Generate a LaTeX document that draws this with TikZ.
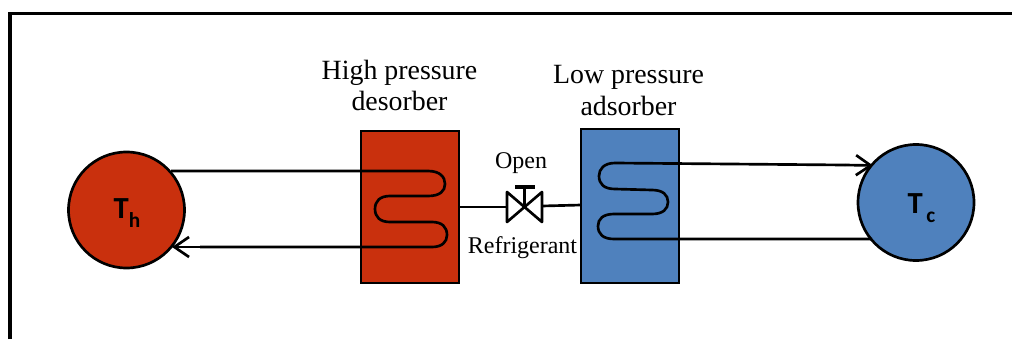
\documentclass[tikz,border=0pt]{standalone}
\usepackage{fontspec}
\setmainfont{Liberation Serif}
\newfontfamily\labelfont{Carlito}
\usetikzlibrary{arrows.meta}
\definecolor{hotred}{HTML}{C9300D}
\definecolor{coldblue}{HTML}{4F81BD}
\tikzset{
  outline/.style={line width=2pt,draw=black},
  tankbox/.style={outline,inner sep=0pt,outer sep=0pt,minimum width=73.5pt,anchor=north west},
  reservoir/.style={outline,circle,inner sep=0pt,outer sep=0pt,minimum size=87pt},
  tube/.style={line width=2pt,draw=black,line join=round},
  flowtip/.style={-{Straight Barb[length=11pt,width=15pt,line width=2pt]}},
  captiontext/.style={font=\fontsize{20.9pt}{23.5pt}\selectfont,align=center,inner sep=0pt},
  smalltext/.style={font=\fontsize{18pt}{22pt}\selectfont,inner sep=0pt},
  templabel/.style={font=\labelfont\bfseries\fontsize{23pt}{25pt}\selectfont,inner sep=0pt}
}
\begin{document}
\begin{tikzpicture}[x=0.75pt,y=-0.75pt]
\useasboundingbox (0,0) rectangle (1012,339);
\fill[white] (0,0) rectangle (1012,339);
\coordinate (frameA) at (10,339);
\coordinate (frameB) at (10,13.5);
\coordinate (frameC) at (1012,13.5);
\draw[outline,line width=2.5pt,line join=miter] (frameA) -- (frameB) -- (frameC);

\node[reservoir,fill=hotred] (th) at (126.5,210) {};
\node[reservoir,fill=coldblue] (tc) at (916,202.5) {};
\node[templabel] (thlabel) at (127,213) {T\raisebox{-0.3em}{\fontsize{16pt}{16pt}\selectfont h}};
\node[templabel] (tclabel) at (921.5,208) {T\raisebox{-0.3em}{\fontsize{16pt}{16pt}\selectfont\,c}};

\node[tankbox,fill=hotred,minimum height=114pt] (des) at (361,131) {};
\node[tankbox,fill=coldblue,minimum height=115.5pt] (ads) at (581,129) {};

\node[captiontext] (deslabel) at (399.5,85.5) {High pressure\\desorber};
\node[captiontext] (adslabel) at (628.5,90.5) {Low pressure\\adsorber};
\node[smalltext] (openlabel) at (521,163) {Open};
\node[smalltext] (reflabel) at (522.5,248) {Refrigerant};

% desorber coil
\coordinate (thout) at (171,171);
\coordinate (thin) at (172,247);
\draw[tube] (thout) -- (428,171)
  .. controls (440,171) and (445,177) .. (445,184)
  .. controls (445,191) and (440,196) .. (428,196)
  -- (390,196)
  .. controls (380,196) and (375,201) .. (375,209)
  .. controls (375,217) and (380,222) .. (390,222)
  -- (432,222)
  .. controls (442,222) and (447,227) .. (447,235)
  .. controls (447,242) and (442,247) .. (432,247)
  -- (200,247);
\draw[tube,flowtip] (200,247) -- (thin);

% adsorber coil
\coordinate (tcin) at (873,165.5);
\coordinate (tcout) at (872,239);
\coordinate (tcpre) at (845,165);
\draw[tube] (tcpre)
  -- (615,163)
  .. controls (604,163) and (599,169) .. (599,176)
  .. controls (599,184) and (604,189) .. (615,189)
  -- (652,190)
  .. controls (663,190) and (668,195) .. (668,202)
  .. controls (668,209) and (663,214) .. (652,214)
  -- (614,214)
  .. controls (603,214) and (598,219) .. (598,226)
  .. controls (598,234) and (603,239) .. (614,239)
  -- (tcout);
\draw[tube,flowtip] (tcpre) -- (tcin);

% valve
\coordinate (valveL) at (507,207);
\coordinate (valveR) at (542,206);
\coordinate (valveC) at (524.5,207);
\coordinate (stemTop) at (524.5,187);
\coordinate (handleL) at (515,187);
\coordinate (handleR) at (535,187);
\draw[tube] (507,192) -- (542,222) -- (542,192) -- (507,222) -- cycle;
\draw[tube] (valveC) -- (stemTop);
\draw[line width=2.8pt] (handleL) -- (handleR);
\draw[tube] (des.east |- valveL) -- (valveL);
\draw[tube] (valveR) -- (ads.west |- 0,205);
\end{tikzpicture}
\end{document}
